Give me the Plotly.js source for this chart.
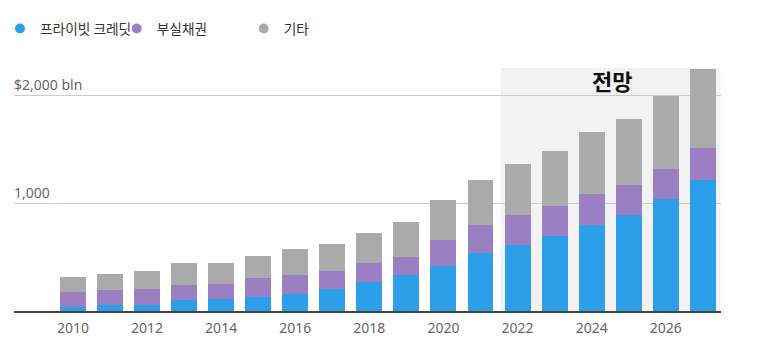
<!DOCTYPE html>
<html>
<head>
<meta charset="utf-8">
<script src="https://cdn.plot.ly/plotly-3.0.1.min.js"></script>
<style>html,body{margin:0;padding:0;background:#fff;}#chart{width:757px;height:356px;}</style>
</head>
<body>
<div id="chart"></div>
<script>
const years = [2010,2011,2012,2013,2014,2015,2016,2017,2018,2019,2020,2021,2022,2023,2024,2025,2026,2027];
const privateCredit = [40,52,55,98,107,132,160,206,271,332,421,535,612,698,800,889,1037,1215];
const nonPerforming = [138,138,151,142,145,169,172,160,172,172,237,265,277,274,283,277,280,293];
const others = [139,154,169,203,197,210,240,258,280,321,370,412,471,508,570,616,677,736];
const seriesNames = ['프라이빗 크레딧','부실채권','기타'];
const tickYears = [2010,2012,2014,2016,2018,2020,2022,2024,2026];
const yTickVals = [1000,2000];
const yTickText = ['1,000','$2,000 bln'];
const forecastStart = 2021.55;
const forecastEnd = 2027.47;
const forecastLabel = '전망';

const colors = ['#2d9ee8','#9a80c2','#aaaaaa'];
const fontFam = '"Noto Sans", "Noto Sans CJK KR", sans-serif';
const korFont = '"Noto Sans CJK KR", "Noto Sans", sans-serif';
const legendIds = ['legend','legend2','legend3'];
const legendX = [-0.0057, 0.1542, 0.3219];

const barTraces = [privateCredit, nonPerforming, others].map((vals, i) => ({
  type: 'bar',
  x: years,
  y: vals,
  name: seriesNames[i],
  marker: {color: colors[i]},
  showlegend: false,
  hoverinfo: 'skip'
}));
// legend-only entries with round markers
const legendTraces = seriesNames.map((n, i) => ({
  type: 'scatter',
  mode: 'markers',
  x: [null],
  y: [null],
  name: n,
  legend: legendIds[i],
  marker: {color: colors[i], size: 10, symbol: 'circle'},
  showlegend: true,
  hoverinfo: 'skip'
}));

const annotations = yTickVals.map((v, i) => ({
  xref: 'paper', yref: 'y',
  x: 0, y: v,
  xanchor: 'left', yanchor: 'bottom',
  yshift: -1, xshift: -2,
  text: yTickText[i],
  showarrow: false,
  font: {family: fontFam, size: 14, color: '#666'}
}));
annotations.push({
  xref: 'x', yref: 'y',
  x: (forecastStart + forecastEnd) / 2 + 0.05, y: 2140,
  text: '<b>' + forecastLabel + '</b>',
  showarrow: false,
  font: {family: korFont, size: 22, color: '#111'}
});

const layout = {
  width: 757,
  height: 356,
  barmode: 'stack',
  bargap: 0.3,
  margin: {l: 14, r: 36, t: 68, b: 45},
  paper_bgcolor: '#fff',
  plot_bgcolor: 'rgba(0,0,0,0)',
  font: {family: fontFam, size: 14, color: '#666'},
  showlegend: true,
  xaxis: {
    type: 'linear',
    range: [2008.41, 2027.49],
    tickvals: tickYears,
    ticktext: tickYears.map(String),
    showgrid: false,
    zeroline: false,
    showline: true,
    linecolor: '#444',
    linewidth: 1.5,
    ticks: '',
    ticklabelstandoff: 4,
    tickfont: {family: fontFam, size: 14, color: '#666'},
    fixedrange: true
  },
  yaxis: {
    range: [0, 2250],
    tickvals: yTickVals,
    showticklabels: false,
    showgrid: true,
    gridcolor: '#cccccc',
    gridwidth: 1,
    zeroline: false,
    showline: false,
    ticks: '',
    fixedrange: true
  },
  shapes: [{
    type: 'rect', xref: 'x', yref: 'y',
    x0: forecastStart, x1: forecastEnd, y0: 0, y1: 2250,
    fillcolor: '#f2f2f2', line: {width: 0}, layer: 'below'
  }],
  annotations: annotations
};
legendIds.forEach((id, i) => {
  layout[id] = {
    orientation: 'h',
    xref: 'container', yref: 'container',
    x: legendX[i], y: 0.963, xanchor: 'left', yanchor: 'top',
    font: {family: korFont, size: 13.7, color: '#333'},
    bgcolor: 'rgba(0,0,0,0)',
    itemclick: false
  };
});

Plotly.newPlot('chart', barTraces.concat(legendTraces), layout, {displayModeBar: false, staticPlot: true});
</script>
</body>
</html>
